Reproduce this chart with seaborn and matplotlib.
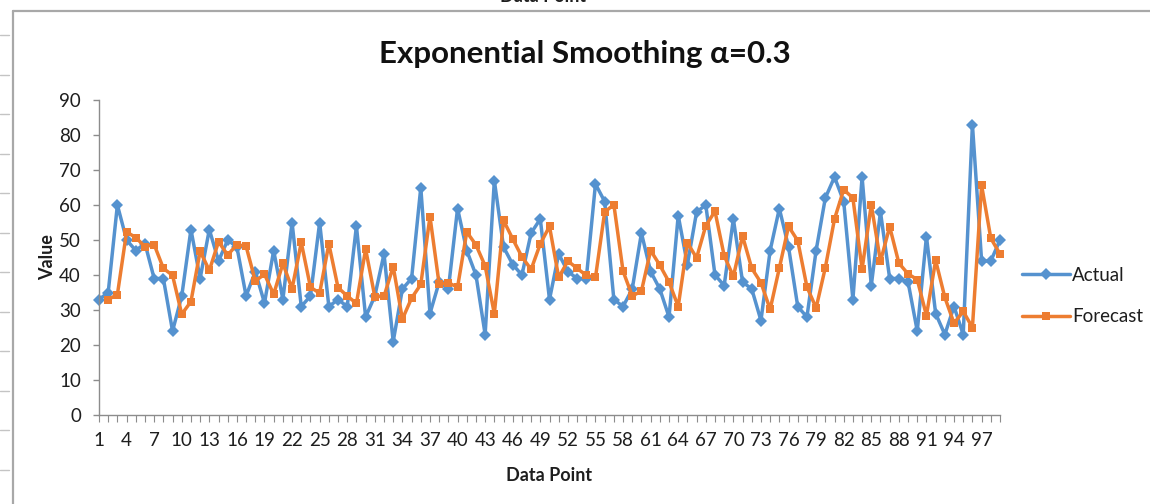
import numpy as np
import pandas as pd
import matplotlib
matplotlib.use("Agg")
import matplotlib.pyplot as plt
from matplotlib import font_manager
from matplotlib.lines import Line2D
import seaborn as sns

# ---- data -------------------------------------------------------------
data_points = list(range(1, 100))

actual = [33, 35, 60, 50, 47, 49, 39, 39, 24, 34,
          53, 39, 53, 44, 50, 48, 34, 41, 32, 47,
          33, 55, 31, 34, 55, 31, 33, 31, 54, 28,
          34, 46, 21, 36, 39, 65, 29, 38, 36, 59,
          47, 40, 23, 67, 48, 43, 40, 52, 56, 33,
          46, 41, 39, 39, 66, 61, 33, 31, 36, 52,
          41, 36, 28, 57, 43, 58, 60, 40, 37, 56,
          38, 36, 27, 47, 59, 48, 31, 28, 47, 62,
          68, 61, 33, 68, 37, 58, 39, 39, 38, 24,
          51, 29, 23, 31, 23, 83, 44, 44, 50]

forecast = [np.nan, 33.0, 34.4, 52.3, 50.7, 48.1, 48.7, 41.9, 39.9, 28.8,
            32.4, 46.8, 41.3, 49.5, 45.7, 48.7, 48.2, 38.3, 40.2, 34.5,
            43.3, 36.1, 49.3, 36.5, 34.8, 48.9, 36.4, 34.0, 31.9, 47.4,
            33.8, 33.9, 42.4, 27.4, 33.4, 37.3, 56.7, 37.3, 37.8, 36.5,
            52.3, 48.6, 42.6, 28.9, 55.6, 50.3, 45.2, 41.6, 48.9, 53.9,
            39.3, 44.0, 41.9, 39.9, 39.3, 58.0, 60.1, 41.1, 34.0, 35.4,
            47.0, 42.8, 38.0, 31.0, 49.2, 44.9, 54.1, 58.2, 45.5, 39.6,
            51.1, 41.9, 37.8, 30.2, 42.0, 53.9, 49.8, 36.6, 30.6, 42.1,
            56.0, 64.4, 62.0, 41.7, 60.1, 43.9, 53.8, 43.4, 40.3, 38.7,
            28.4, 44.2, 33.6, 26.2, 29.6, 25.0, 65.6, 50.5, 46.0]

series_names = ["Actual", "Forecast"]
x_tick_labels = [str(v) for v in range(1, 100, 3)]
y_ticks = list(range(0, 100, 10))

# ---- style ------------------------------------------------------------
sns.set_style("white")
installed = {f.name for f in font_manager.fontManager.ttflist}
base_font = next(n for n in ["Lato", "Roboto", "Open Sans", "DejaVu Sans"]
                 if n in installed)
plt.rcParams["font.family"] = [base_font, "DejaVu Sans"]

blue = "#5592CF"
orange = "#ED7D31"
axis_grey = "#8C8C8C"
text_grey = "#1E1E1E"
line_w = 2.5
ms_actual, ms_forecast = 5.8, 6.4

df = pd.DataFrame({"Data Point": data_points, "Actual": actual, "Forecast": forecast})
long_df = df.melt(id_vars="Data Point", value_vars=series_names,
                  var_name="Series", value_name="Value").dropna()

fig = plt.figure(figsize=(11.5, 5.04), dpi=100)
ax = fig.add_axes([99 / 1150, 1 - 415 / 504, 901 / 1150, 315 / 504])

sns.lineplot(data=long_df, x="Data Point", y="Value", hue="Series", style="Series",
             hue_order=series_names, style_order=series_names,
             palette={"Actual": blue, "Forecast": orange},
             markers={"Actual": "D", "Forecast": "s"}, dashes=False,
             estimator=None, errorbar=None, linewidth=line_w,
             markeredgewidth=0, ax=ax, legend=False)
for line, ms in zip(ax.lines, [ms_actual, ms_forecast]):
    line.set_markersize(ms)
    line.set_clip_on(False)

# ---- axes -------------------------------------------------------------
ax.set_xlim(1, 99)
ax.set_ylim(0, 90)
ax.set_yticks(y_ticks)
ax.set_xticks(data_points)
ax.set_xticklabels([str(v) if str(v) in x_tick_labels else "" for v in data_points])

for side in ["top", "right"]:
    ax.spines[side].set_visible(False)
for side in ["left", "bottom"]:
    ax.spines[side].set_color(axis_grey)
    ax.spines[side].set_linewidth(1.0)

ax.tick_params(axis="y", direction="out", length=4, width=1, color=axis_grey,
               labelsize=13.5, labelcolor=text_grey, pad=9, left=True)
ax.tick_params(axis="x", direction="out", length=5, width=0.8, color=axis_grey,
               labelsize=13.5, labelcolor=text_grey, pad=7, bottom=True)

ax.set_ylabel("Value", fontsize=13, fontweight="bold", color=text_grey)
ax.set_xlabel("Data Point", fontsize=13, fontweight="bold", color=text_grey)
ax.yaxis.set_label_coords(-0.048, 0.5)
ax.xaxis.set_label_coords(0.5, -0.165)

fig.text(585 / 1150, 1 - 63 / 504, "Exponential Smoothing α=0.3", ha="center",
         va="baseline", fontsize=22.5, fontweight="bold", color="#111111")

# ---- legend -----------------------------------------------------------
handles = [Line2D([], [], color=blue, marker="D", markersize=ms_actual,
                  markeredgewidth=0, lw=line_w),
           Line2D([], [], color=orange, marker="s", markersize=ms_forecast,
                  markeredgewidth=0, lw=line_w)]
fig.legend(handles, series_names, loc="center left",
           bbox_to_anchor=(1014 / 1150, 1 - 296 / 504), frameon=False,
           fontsize=13.5, handlelength=2.6, handletextpad=0.1, labelspacing=1.3,
           labelcolor=text_grey, borderaxespad=0)

# ---- surrounding sheet frame ------------------------------------------
frame_col = "#A8A8A8"
fig.add_artist(Line2D([13 / 1150, 1], [1 - 11 / 504, 1 - 11 / 504],
                      transform=fig.transFigure, color=frame_col, lw=1.6))
fig.add_artist(Line2D([13 / 1150, 13 / 1150], [0, 1 - 11 / 504],
                      transform=fig.transFigure, color=frame_col, lw=1.6))
for y in np.arange(35, 504, 39.5):
    fig.add_artist(Line2D([0, 9 / 1150], [1 - y / 504, 1 - y / 504],
                          transform=fig.transFigure, color="#C4C4C4", lw=1.0))
fig.text(543 / 1150, 1 + 4 / 504, "Data Point", ha="center", va="center",
         fontsize=13, fontweight="bold", color=text_grey)

fig.savefig("out.png", dpi=100)
